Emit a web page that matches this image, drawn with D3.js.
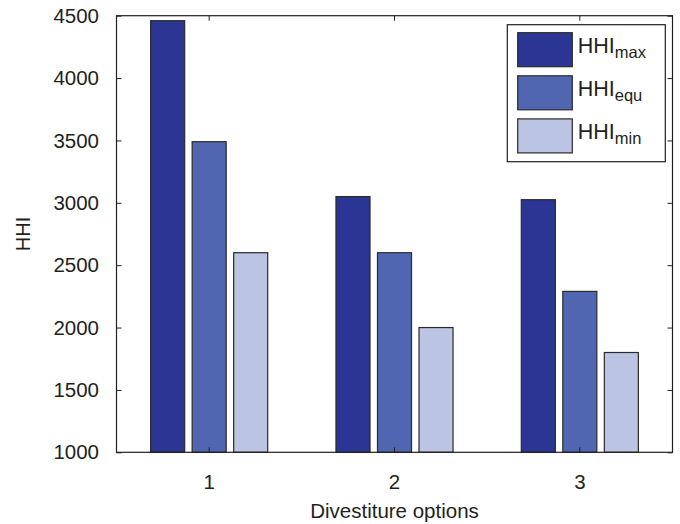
<!DOCTYPE html>
<html>
<head>
<meta charset="utf-8">
<script src="https://cdn.jsdelivr.net/npm/d3@7"></script>
<style>
  html, body { margin: 0; padding: 0; background: #fff; }
  svg { display: block; font-family: "Liberation Sans", Arial, Helvetica, sans-serif; }
</style>
</head>
<body>
<svg id="chart" width="680" height="524"></svg>
<script>
// Divestiture options on the x axis
const categories = ["1", "2", "3"];
// Series: concentration index under each scenario
const seriesKeys = ["max", "equ", "min"];
const hhiMax = [4460, 3050, 3025];
const hhiEqu = [3490, 2600, 2290];
const hhiMin = [2600, 2000, 1800];
const yTicks = [1000, 1500, 2000, 2500, 3000, 3500, 4000, 4500];
const seriesColors = ["#2b3594", "#5166b0", "#bbc5e3"];

const seriesValues = [hhiMax, hhiEqu, hhiMin];

const svg = d3.select("#chart");
const W = 680, H = 524;
const margin = { left: 116.5, right: 7.5, top: 15.7, bottom: 71.7 };
const x0 = margin.left, x1 = W - margin.right;
const y0 = H - margin.bottom, y1 = margin.top;
const ink = "#231f20";

const x = d3.scaleBand().domain(categories).range([x0, x1]).padding(0);
const groupSpan = x.bandwidth() * 0.672;
const xs = d3.scaleBand().domain(seriesKeys)
  .range([-groupSpan / 2, groupSpan / 2])
  .paddingInner(0.18).paddingOuter(0.09);
const y = d3.scaleLinear().domain([1000, 4500]).range([y0, y1]);

// Bars
const rows = categories.map((c, i) => ({
  cat: c,
  vals: seriesKeys.map((k, j) => ({ key: k, value: seriesValues[j][i], color: seriesColors[j] }))
}));

const groups = svg.append("g").selectAll("g").data(rows).join("g")
  .attr("transform", d => `translate(${x(d.cat) + x.bandwidth() / 2},0)`);

groups.selectAll("rect").data(d => d.vals).join("rect")
  .attr("x", d => xs(d.key))
  .attr("width", xs.bandwidth())
  .attr("y", d => y(d.value))
  .attr("height", d => y(1000) - y(d.value))
  .attr("fill", d => d.color)
  .attr("stroke", "#2a2a2a")
  .attr("stroke-width", 1.2);

// Axes with inward ticks on all four sides
const tickLen = 5;
const axisL = d3.axisLeft(y).tickValues(yTicks).tickSize(-tickLen).tickPadding(17.5).tickFormat(d3.format("d"));
const axisR = d3.axisRight(y).tickValues(yTicks).tickSize(-tickLen).tickFormat("");
const axisB = d3.axisBottom(x).tickSize(-tickLen).tickPadding(22);
const axisT = d3.axisTop(x).tickSize(-tickLen).tickFormat("");

function styleAxis(g) {
  g.select(".domain").remove();
  g.selectAll(".tick line").attr("stroke", ink).attr("stroke-width", 1);
  g.selectAll(".tick text").attr("fill", ink).attr("font-size", 20.5)
    .attr("font-family", "Liberation Sans, Arial, sans-serif");
}

svg.append("g").attr("transform", `translate(${x0},0)`).call(axisL).call(styleAxis);
svg.append("g").attr("transform", `translate(${x1},0)`).call(axisR).call(styleAxis);
svg.append("g").attr("transform", `translate(0,${y0})`).call(axisB).call(styleAxis);
svg.append("g").attr("transform", `translate(0,${y1})`).call(axisT).call(styleAxis);

// Plot frame
svg.append("rect")
  .attr("x", x0).attr("y", y1).attr("width", x1 - x0).attr("height", y0 - y1)
  .attr("fill", "none").attr("stroke", ink).attr("stroke-width", 1.2);

// Axis titles
svg.append("text")
  .attr("x", (x0 + x1) / 2).attr("y", 518)
  .attr("text-anchor", "middle").attr("fill", ink).attr("font-size", 20.5)
  .text("Divestiture options");

svg.append("text")
  .attr("transform", `translate(30,${(y0 + y1) / 2}) rotate(-90)`)
  .attr("text-anchor", "middle").attr("fill", ink).attr("font-size", 20)
  .text("HHI");

// Legend
const legend = svg.append("g");
legend.append("rect")
  .attr("x", 507.3).attr("y", 24.7).attr("width", 158).attr("height", 137)
  .attr("fill", "#fff").attr("stroke", ink).attr("stroke-width", 1.2);

const items = legend.selectAll("g.item").data(seriesKeys).join("g")
  .attr("class", "item")
  .attr("transform", (d, i) => `translate(0,${32.7 + i * 43.1})`);

items.append("rect")
  .attr("x", 517.7).attr("y", 0).attr("width", 54.6).attr("height", 34)
  .attr("fill", (d, i) => seriesColors[i])
  .attr("stroke", "#2a2a2a").attr("stroke-width", 1.2);

const lt = items.append("text")
  .attr("x", 577.7).attr("y", 20).attr("fill", ink).attr("font-size", 21.5);
lt.append("tspan").text("HHI");
lt.append("tspan").attr("dy", 5.6).attr("font-size", 16.5).text(d => d);
</script>
</body>
</html>
